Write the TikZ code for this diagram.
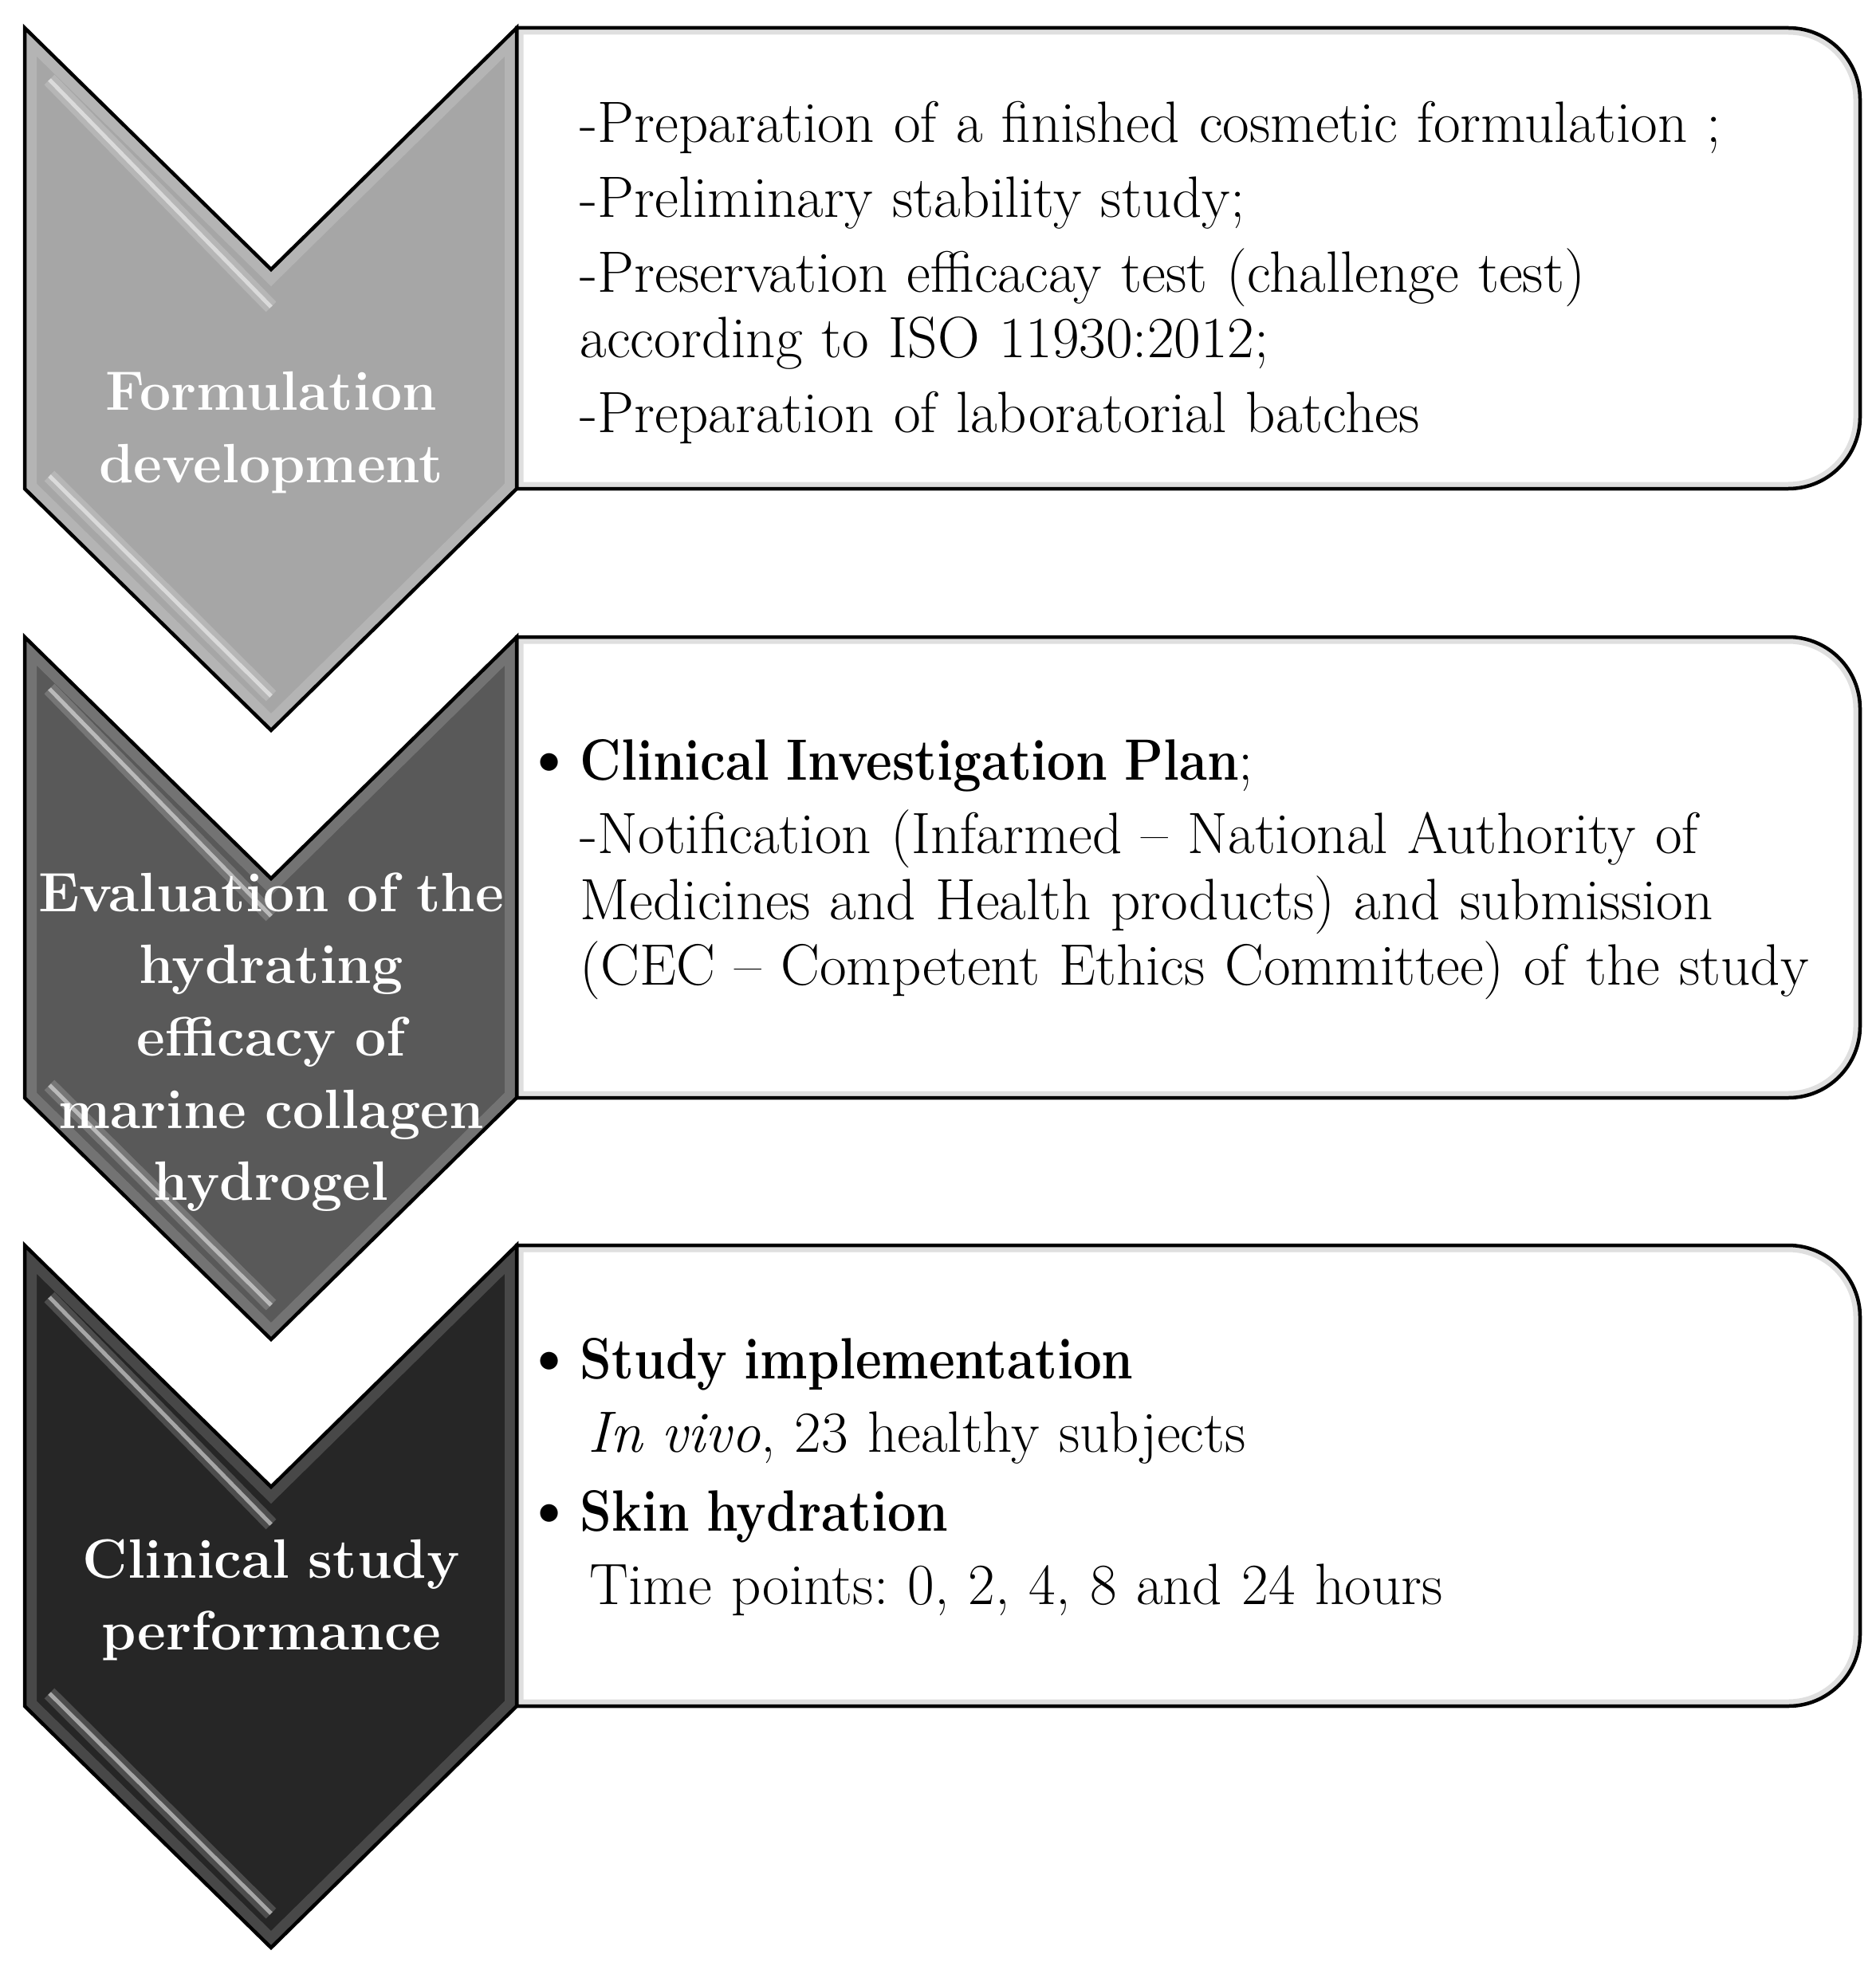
\documentclass[tikz,border=0pt]{standalone}
\usepackage{tikz}
\usepackage{graphicx}

\definecolor{stageone}{HTML}{A6A6A6}
\definecolor{stagetwo}{HTML}{595959}
\definecolor{stagethree}{HTML}{262626}

% chevron outline, #1 = depth of its top edge
\newcommand{\chevronpath}[1]{(0.31,-#1) -- (3.40,-#1-3.03) -- (6.48,-#1) -- (6.48,-#1-5.78) -- (3.40,-#1-8.81) -- (0.31,-#1-5.78) -- cycle}
% text panel, square on the left, rounded on the right
\newcommand{\panelpath}[1]{(6.48,-#1) -- (22.43,-#1) arc[start angle=90, end angle=0, radius=0.9] -- (23.33,-#1-4.88) arc[start angle=0, end angle=-90, radius=0.9] -- (6.48,-#1-5.78) -- cycle}
% bulleted bold heading inside a panel
\newcommand{\bulhead}[1]{\leavevmode\llap{\raisebox{-0.04cm}{\scalebox{1.35}{\textbullet}}\hspace{0.03cm}}\scalebox{0.87}[1]{\textbf{#1}}}

\begin{document}
\begin{tikzpicture}[
    outline/.style={draw=black, line width=0.045cm, line join=miter},
    rim/.style={white, opacity=0.16, line width=0.30cm},
    panelrim/.style={gray!25, line width=0.17cm},
    glow/.style={white, opacity=0.18, line width=0.18cm},
    glint/.style={white, opacity=0.5, line width=0.05cm},
    stagelabel/.style={anchor=base, text=white, align=center, text width=7cm, inner sep=0pt,
        font=\fontsize{19.8}{25.8}\selectfont\bfseries},
    paneltext/.style={anchor=base west, align=left, text width=15.6cm, inner sep=0pt,
        font=\fontsize{20.8}{23.5}\selectfont\frenchspacing}
]
    \useasboundingbox (0,0) rectangle (23.52,-24.66);

    % Panels
    \foreach \t in {0.35, 7.99, 15.62} {
        \fill[white] \panelpath{\t};
        \begin{scope}
            \clip \panelpath{\t};
            \draw[panelrim] \panelpath{\t};
        \end{scope}
        \draw[outline] \panelpath{\t};
    }

    % Chevrons
    \foreach \t/\c in {0.35/stageone, 7.99/stagetwo, 15.62/stagethree} {
        \fill[\c] \chevronpath{\t};
        \begin{scope}
            \clip \chevronpath{\t};
            \draw[rim] \chevronpath{\t};
            \draw[glow] (0.62,-\t-0.65) -- (3.40,-\t-3.50);
            \draw[glint] (0.62,-\t-0.65) -- (3.40,-\t-3.50);
            \draw[glow] (0.62,-\t-5.62) -- (3.40,-\t-8.38);
            \draw[glint] (0.62,-\t-5.62) -- (3.40,-\t-8.38);
        \end{scope}
        \draw[outline] \chevronpath{\t};
    }

    % Stage labels
    \node[stagelabel] (formlabel) at (3.40,-5.15) {Formulation\\development};
    \node[stagelabel] (evallabel) at (3.40,-11.43) {Evaluation of the\\hydrating\\efficacy of\\marine collagen\\hydrogel};
    \node[stagelabel] (cliniclabel) at (3.40,-19.79) {Clinical study\\performance};

    % Panel texts
    \node[paneltext] (formtext) at (7.27,-1.79) {-Preparation of a finished cosmetic formulation ;\\[0.11cm]
        -Preliminary stability study;\\[0.11cm]
        -Preservation efficacay test (challenge test)\\
        according to ISO 11930:2012;\\[0.11cm]
        -Preparation of laboratorial batches};
    \node[paneltext] (evaltext) at (7.27,-9.78) {\bulhead{Clinical Investigation Plan};\\[0.10cm]
        -Notification (Infarmed – National Authority of\\
        Medicines and Health products) and submission\\
        (CEC – Competent Ethics Committee) of the study};
    \node[paneltext] (clinictext) at (7.27,-17.29) {\bulhead{Study implementation}\\[0.10cm]
        \hspace{0.1cm}\textit{In vivo}, 23 healthy subjects\\[0.16cm]
        \bulhead{Skin hydration}\\[0.10cm]
        \hspace{0.12cm}Time points: 0, 2, 4, 8 and 24 hours};

\end{tikzpicture}
\end{document}
